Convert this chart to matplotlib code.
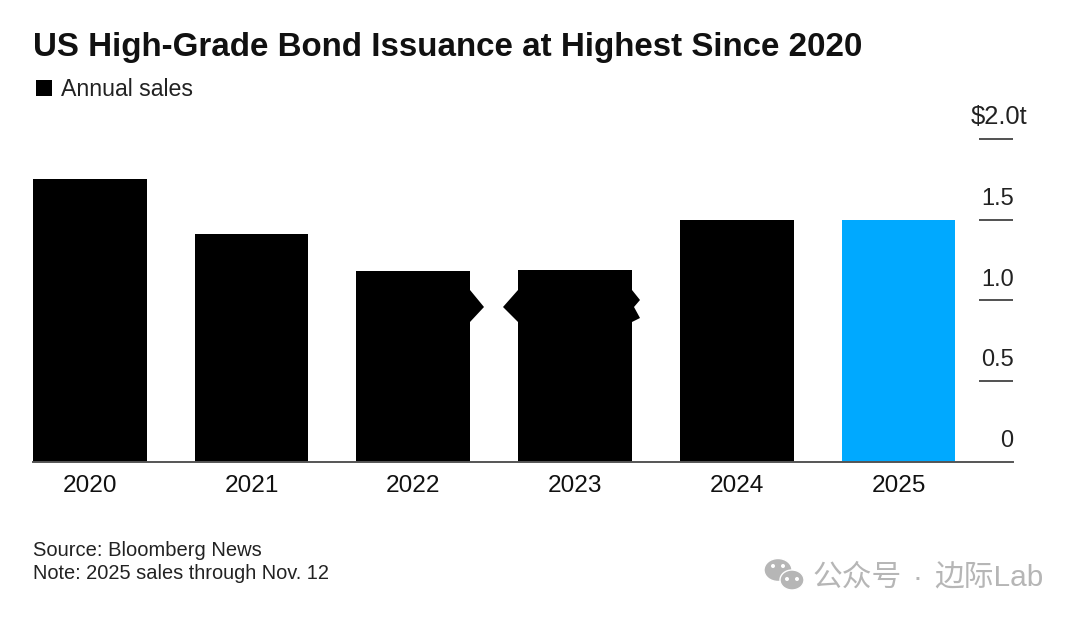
import matplotlib.pyplot as plt
from matplotlib.patches import Ellipse, Polygon, Rectangle

plt.rcParams['font.family'] = ['Liberation Sans', 'Noto Sans CJK SC', 'DejaVu Sans']

years = ['2020', '2021', '2022', '2023', '2024', '2025']
sales = [1.752, 1.408, 1.181, 1.188, 1.498, 1.498]
bar_colors = ['#000000', '#000000', '#000000', '#000000', '#000000', '#00a9ff']
y_ticks = [0, 0.5, 1.0, 1.5, 2.0]
y_labels = ['0', '0.5', '1.0', '1.5', '$2.0t']

W, H = 1080, 618
fig = plt.figure(figsize=(W / 100, H / 100), dpi=100)

# axes box in pixels: left 33, right 1013, baseline 461.5, top tick 139
ax = fig.add_axes([33 / W, 1 - 461.5 / H, 980 / W, 322.5 / H])
ax.bar(range(len(years)), sales, width=0.703, color=bar_colors)
ax.set_xlim(-0.351, 5.708)
ax.set_ylim(0, 2.0)

for s in ['top', 'left', 'right']:
    ax.spines[s].set_visible(False)
ax.spines['bottom'].set_color('#555555')
ax.spines['bottom'].set_linewidth(1.4)

ax.set_xticks(range(len(years)))
ax.set_xticklabels(years, fontsize=17.6, color='#111111')
ax.tick_params(axis='x', length=0, pad=9.5)

ax.yaxis.tick_right()
ax.set_yticks(y_ticks[1:])
ax.set_yticklabels([])
ax.tick_params(axis='y', direction='in', length=24.5, width=1.2, color='#333333')

for v, lab in zip(y_ticks, y_labels):
    big = lab.startswith('$')
    ax.annotate(lab, xy=(1, v), xycoords=ax.get_yaxis_transform(), xytext=(10.5 if big else 0.5, 7),
                textcoords='offset points', ha='right', va='bottom',
                fontsize=18.4 if big else 17, color='#222222')

# title and legend
fig.text(33 / W, 1 - 56 / H, 'US High-Grade Bond Issuance at Highest Since 2020',
         fontsize=23.9, fontweight='bold', color='#111111', ha='left', va='baseline')
fig.add_artist(Rectangle((36 / W, 1 - 96 / H), 16 / W, 16 / H, transform=fig.transFigure,
                         color='black', lw=0))
fig.text(61 / W, 1 - 96 / H, 'Annual sales', fontsize=16.7, color='#222222', va='baseline')

# footer
fig.text(33 / W, 1 - 556 / H, 'Source: Bloomberg News', fontsize=14.5, color='#222222', va='baseline')
fig.text(33 / W, 1 - 579 / H, 'Note: 2025 sales through Nov. 12', fontsize=14.4, color='#222222', va='baseline')

# leftover smudge between the 2022 and 2023 bars
for pts in [[(470, 290), (484, 307), (470, 322)],
            [(518, 290), (503, 307), (518, 322)],
            [(632, 290), (640, 300), (634, 307), (640, 318), (632, 322)]]:
    fig.add_artist(Polygon([(x / W, 1 - y / H) for x, y in pts], transform=fig.transFigure,
                           color='black', lw=0))

# watermark
gray = '#b6b6b6'
for cx, cy, rx, ry in [(778, 570, 14, 11.5), (792, 580, 12, 10)]:
    fig.add_artist(Ellipse((cx / W, 1 - cy / H), 2 * rx / W, 2 * ry / H, transform=fig.transFigure,
                           facecolor=gray, edgecolor='white', lw=1))
for cx, cy in [(773, 566), (783, 566), (787, 579), (797, 579)]:
    fig.add_artist(Ellipse((cx / W, 1 - cy / H), 4 / W, 4 / H, transform=fig.transFigure,
                           facecolor='white', lw=0))
for x, txt in [(812, '公众号'), (913, '·'), (934, '边际Lab')]:
    fig.text(x / W, 1 - 586 / H, txt, fontsize=21.4, color=gray, va='baseline')

fig.savefig('out.png', dpi=100)
